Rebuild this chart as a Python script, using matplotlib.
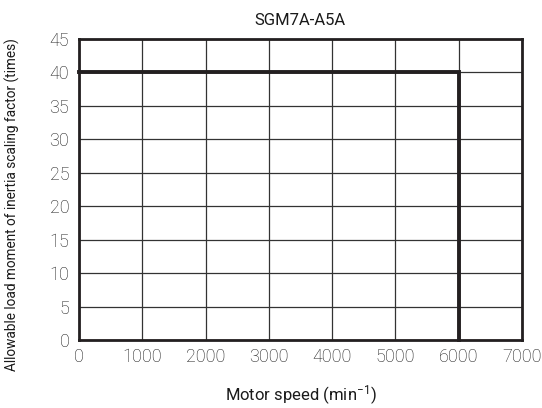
import matplotlib
matplotlib.use("Agg")
from matplotlib import pyplot as plt

# curve data
speed = [0, 6000, 6000]
factor = [40, 40, 0]
xticks = [0, 1000, 2000, 3000, 4000, 5000, 6000, 7000]
yticks = [0, 5, 10, 15, 20, 25, 30, 35, 40, 45]

plt.rcParams['font.family'] = ['Roboto', 'DejaVu Sans']
plt.rcParams['font.weight'] = 'light'
plt.rcParams['mathtext.default'] = 'regular'

fig = plt.figure(figsize=(5.42, 4.08), dpi=100)
ax = fig.add_axes([0.1458, 0.1667, 0.817, 0.7377])

ax.plot(speed, factor, color="#231f20", linewidth=2.8, solid_joinstyle="miter", clip_on=False, zorder=3)

ax.set_xlim(0, 7000)
ax.set_ylim(0, 45)
ax.set_xticks(xticks)
ax.set_yticks(yticks)
ax.tick_params(length=0, labelsize=13, colors="#1a1a1a")
ax.tick_params(axis="x", pad=6)
ax.tick_params(axis="y", pad=7)
ax.grid(True, color="#333333", linewidth=0.9)
ax.set_axisbelow(True)
for s in ax.spines.values():
    s.set_linewidth(2)
    s.set_color("#231f20")

ax.set_title("SGM7A-A5A", fontsize=12, color="#1a1a1a", pad=10)
ax.set_xlabel("Motor speed (min$^{-1}$)", fontsize=12, color="#1a1a1a", labelpad=12)
ax.set_ylabel("Allowable load moment of inertia scaling factor (times)", fontsize=9.8, color="#1a1a1a")
ax.yaxis.set_label_coords(-0.133, 0.45)

fig.savefig("out.png", dpi=100)
